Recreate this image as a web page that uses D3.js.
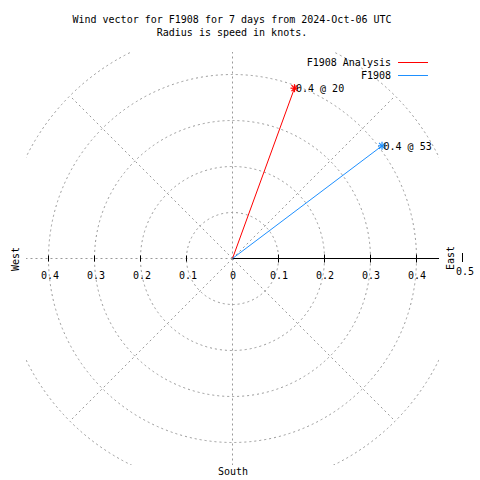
<!DOCTYPE html>
<html><head><meta charset="utf-8">
<script src="https://cdn.jsdelivr.net/npm/d3@7"></script>
<style>body{margin:0;background:#fff}svg{display:block}text{font-family:"DejaVu Sans Mono",monospace;font-size:10px;fill:#000}</style>
</head><body><div id="chart"></div>
<script>
const titleLines = ["Wind vector for F1908 for 7 days from 2024-Oct-06 UTC", "Radius is speed in knots."];
const seriesNames = ["F1908 Analysis", "F1908"];
const seriesColors = ["#ff0000", "#1e90ff"];
const directions = [20, 53];      // degrees, clockwise from north
const speeds = [0.394, 0.407];    // knots
const speedLabels = ["0.4 @ 20", "0.4 @ 53"];
const ringValues = [0.1, 0.2, 0.3, 0.4, 0.5];
const spokeAngles = [0, 45, 90, 135, 180, 225, 270, 315];
const tickValues = [0.1, 0.2, 0.3, 0.4];
const leftTickLabels = ["0.1", "0.2", "0.3", "0.4"];
const rightTickLabels = ["0", "0.1", "0.2", "0.3", "0.4"];

const W = 480, H = 480;
const cx = 232.5, cy = 258.5;
const r = d3.scaleLinear().domain([0, 0.5]).range([0, 230]);
const half = r(0.449);

const svg = d3.select("#chart").append("svg").attr("width", W).attr("height", H);
svg.append("defs").append("clipPath").attr("id", "clip")
  .append("rect").attr("x", cx - half).attr("y", cy - half).attr("width", 2 * half).attr("height", 2 * half);

const g = svg.append("g").attr("transform", `translate(${cx},${cy})`);
const grid = g.append("g").attr("clip-path", "url(#clip)").attr("transform", `translate(${-cx},${-cy})`)
  .append("g").attr("transform", `translate(${cx},${cy})`);

grid.selectAll("circle.ring").data(ringValues).join("circle")
  .attr("r", d => r(d)).attr("fill", "none").attr("stroke", "#999")
  .attr("stroke-width", 1).attr("stroke-dasharray", "2,3");

grid.selectAll("line.spoke").data(spokeAngles).join("line")
  .attr("x1", 0).attr("y1", 0)
  .attr("x2", d => r(0.5) * Math.sin(d * Math.PI / 180))
  .attr("y2", d => -r(0.5) * Math.cos(d * Math.PI / 180))
  .attr("stroke", "#999").attr("stroke-width", 1).attr("stroke-dasharray", "2,3");

// black axis to the east
g.append("line").attr("x1", 0).attr("y1", 0).attr("x2", half).attr("y2", 0)
  .attr("stroke", "#000").attr("stroke-width", 1);
g.selectAll("line.rt").data(tickValues).join("line")
  .attr("x1", d => r(d)).attr("x2", d => r(d)).attr("y1", -4).attr("y2", 4)
  .attr("stroke", "#000");
g.selectAll("line.lt").data(tickValues).join("line")
  .attr("x1", d => -r(d)).attr("x2", d => -r(d)).attr("y1", -3).attr("y2", 3)
  .attr("stroke", "#000");

// tick labels
g.selectAll("text.ll").data(tickValues).join("text")
  .attr("x", d => -r(d) + 1.5).attr("y", 20).attr("text-anchor", "middle")
  .text((d, i) => leftTickLabels[i]);
const rightVals = [0].concat(tickValues);
g.selectAll("text.rl").data(rightVals).join("text")
  .attr("x", d => r(d) + 0.5).attr("y", 20).attr("text-anchor", "middle")
  .text((d, i) => rightTickLabels[i]);

// compass labels
svg.append("text").attr("transform", "translate(19,259) rotate(-90)").attr("text-anchor", "middle").text("West");
svg.append("text").attr("transform", "translate(454,258) rotate(-90)").attr("text-anchor", "middle").text("East");
svg.append("text").attr("x", 233).attr("y", 475).attr("text-anchor", "middle").text("South");
svg.append("line").attr("x1", 462.5).attr("x2", 462.5).attr("y1", 253).attr("y2", 262).attr("stroke", "#000");
svg.append("text").attr("x", 465).attr("y", 275).attr("text-anchor", "middle").text("0.5");

// vectors
const pts = directions.map((d, i) => ({
  x: r(speeds[i]) * Math.sin(d * Math.PI / 180),
  y: -r(speeds[i]) * Math.cos(d * Math.PI / 180),
  c: seriesColors[i], lab: speedLabels[i]
}));
pts.forEach(p => {
  g.append("line").attr("x1", 0).attr("y1", 0).attr("x2", p.x).attr("y2", p.y)
    .attr("stroke", p.c).attr("stroke-width", 1);
  const s = 4;
  const star = g.append("g").attr("transform", `translate(${p.x},${p.y})`).attr("stroke", p.c).attr("stroke-width", 1.2);
  star.append("line").attr("x1", -s).attr("x2", s).attr("y1", 0).attr("y2", 0);
  star.append("line").attr("x1", 0).attr("x2", 0).attr("y1", -s).attr("y2", s);
  star.append("line").attr("x1", -s * 0.75).attr("x2", s * 0.75).attr("y1", -s * 0.75).attr("y2", s * 0.75);
  star.append("line").attr("x1", -s * 0.75).attr("x2", s * 0.75).attr("y1", s * 0.75).attr("y2", -s * 0.75);
  g.append("text").attr("x", p.x + 1.5).attr("y", p.y + 4).text(p.lab);
});

// title
svg.selectAll("text.title").data(titleLines).join("text")
  .attr("x", 232).attr("y", (d, i) => 23 + i * 13).attr("text-anchor", "middle").text(d => d);

// legend
seriesNames.forEach((n, i) => {
  const y = 62.5 + i * 13;
  svg.append("text").attr("x", 391).attr("y", y + 3.5).attr("text-anchor", "end").text(n);
  svg.append("line").attr("x1", 398).attr("x2", 428).attr("y1", y).attr("y2", y)
    .attr("stroke", seriesColors[i]).attr("stroke-width", 1);
});
</script></body></html>
